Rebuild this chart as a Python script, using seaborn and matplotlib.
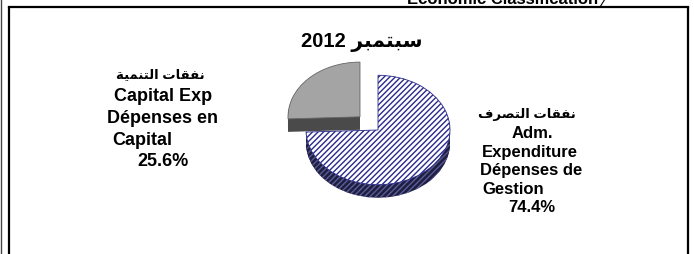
import matplotlib
matplotlib.use("Agg")
import matplotlib.pyplot as plt
import seaborn as sns

# data
values = [74.4, 25.6]
labels_ar = ["نفقات التصرف", "نفقات التنمية"]
labels_en = [["Adm.", "Expenditure"], ["Capital Exp"]]
labels_fr = [["Dépenses de", "Gestion"], ["Dépenses en", "Capital"]]
title_month = "سبتمبر"
title_year = "2012"
header_text = "Economic Classification"

# contextual forms: isolated, final, initial, medial
FORMS = {
    "ا": ("\uFE8D", "\uFE8E", None, None),
    "ب": ("\uFE8F", "\uFE90", "\uFE91", "\uFE92"),
    "ة": ("\uFE93", "\uFE94", None, None),
    "ت": ("\uFE95", "\uFE96", "\uFE97", "\uFE98"),
    "ر": ("\uFEAD", "\uFEAE", None, None),
    "س": ("\uFEB1", "\uFEB2", "\uFEB3", "\uFEB4"),
    "ص": ("\uFEB9", "\uFEBA", "\uFEBB", "\uFEBC"),
    "ف": ("\uFED1", "\uFED2", "\uFED3", "\uFED4"),
    "ق": ("\uFED5", "\uFED6", "\uFED7", "\uFED8"),
    "ل": ("\uFEDD", "\uFEDE", "\uFEDF", "\uFEE0"),
    "م": ("\uFEE1", "\uFEE2", "\uFEE3", "\uFEE4"),
    "ن": ("\uFEE5", "\uFEE6", "\uFEE7", "\uFEE8"),
    "ي": ("\uFEF1", "\uFEF2", "\uFEF3", "\uFEF4"),
}


def shape_word(word):
    out = []
    for i, ch in enumerate(word):
        prev = word[i - 1] if i > 0 else None
        nxt = word[i + 1] if i + 1 < len(word) else None
        join_prev = prev in FORMS and FORMS[prev][2] is not None
        join_next = nxt in FORMS and FORMS[ch][2] is not None
        isol, fina, init, medi = FORMS[ch]
        if join_prev and join_next:
            out.append(medi)
        elif join_prev:
            out.append(fina)
        elif join_next:
            out.append(init)
        else:
            out.append(isol)
    return "".join(reversed(out))


def arabic(text):
    return " ".join(shape_word(w) for w in reversed(text.split(" ")))


sns.set_theme(style="white")
plt.rcParams["font.family"] = ["Liberation Sans", "DejaVu Sans"]
plt.rcParams["text.color"] = "black"
plt.rcParams["hatch.linewidth"] = 1.0

fig = plt.figure(figsize=(6.94, 2.55), dpi=100)

# pie axes, y squashed to fake the tilt
k = 0.76
ax_pie = fig.add_axes([0, 0, 1, 1])
cx, cy = 378, (255 - 131) / k
radius = 72
depth = 13
explode = [0, 25]  # pie explode is in data units here

for i in range(depth, 0, -1):
    wedges, _ = ax_pie.pie(
        values, startangle=90, counterclock=False, explode=explode,
        center=(cx, cy - i / k), radius=radius,
        colors=["#1e1e40", "#4a4a4a"],
        wedgeprops=dict(linewidth=0),
    )
    wedges[0].set_hatch("//////")
    wedges[0].set_edgecolor("#6a6aaa")

wedges, _ = ax_pie.pie(
    values, startangle=90, counterclock=False, explode=explode,
    center=(cx, cy), radius=radius,
    colors=["white", "#a4a4a4"],
    wedgeprops=dict(linewidth=0.6),
)
wedges[0].set_hatch("//////")
wedges[0].set_edgecolor("#2a2a8c")
wedges[1].set_edgecolor("#666666")

ax_pie.set_aspect("auto")
ax_pie.set_xlim(0, 694)
ax_pie.set_ylim(0, 255 / k)
ax_pie.axis("off")

# overlay axes in pixel coordinates for frame and text
ax = fig.add_axes([0, 0, 1, 1], facecolor="none")
ax.set_xlim(0, 694)
ax.set_ylim(255, 0)
ax.axis("off")

ax.plot([9, 688], [8, 8], color="black", lw=1.6, solid_capstyle="projecting")
ax.plot([9, 9], [8, 256], color="black", lw=1.6)
ax.plot([688, 688], [8, 256], color="black", lw=1.6)
ax.plot([1.5, 1.5], [0, 256], color="#444444", lw=1)
ax.plot([600, 605], [8, 0], color="black", lw=0.8)

ax.text(598, 4, header_text, ha="right", va="baseline",
        fontsize=12, fontweight="bold")

ax.text(362, 42, f"{title_year} {arabic(title_month)}", ha="center",
        va="center", fontsize=14.5, fontweight="bold")

# left label (capital expenditure)
left_lines = [arabic(labels_ar[1])] + labels_en[1] + labels_fr[1] + [f"{values[1]:.1f}%"]
left_x = [160, 163, 163, 112, 163]
for j, line in enumerate(left_lines):
    ha = "left" if left_x[j] == 112 else "center"
    ax.text(left_x[j], 75 + j * 21.7, line, ha=ha, va="center",
            fontsize=9.5 if j == 0 else 13, fontweight="bold")

# right label (administrative expenditure)
right_lines = [arabic(labels_ar[0])] + labels_en[0] + labels_fr[0] + [f"{values[0]:.1f}%"]
right_x = [527, 532, 530, 531, 482, 532]
for j, line in enumerate(right_lines):
    ha = "left" if right_x[j] == 482 else "center"
    ax.text(right_x[j], 115 + j * 18.6, line, ha=ha, va="center",
            fontsize=9.5 if j == 0 else 12, fontweight="bold")

fig.savefig("out.png", dpi=100)
plt.close(fig)
